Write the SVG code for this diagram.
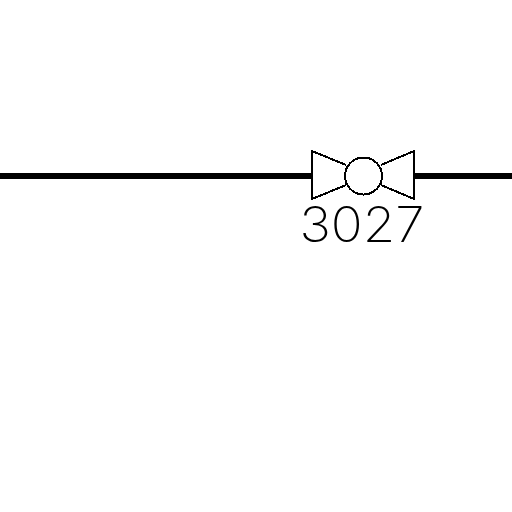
<svg xmlns="http://www.w3.org/2000/svg" width="512" height="512" viewBox="0 0 512 512">
<style>
.pipe{stroke:#000;stroke-width:6;fill:none;shape-rendering:crispEdges}
.sym{stroke:#000;stroke-width:2;fill:none;shape-rendering:crispEdges}
.lbl{font-family:"Inter","Liberation Sans",sans-serif;font-size:49px;font-weight:200;fill:#000}
</style>
<rect width="512" height="512" fill="#fff"/>
<g id="connectors">
<line class="pipe" x1="0" y1="176" x2="312" y2="176"/>
<line class="pipe" x1="415" y1="176" x2="512" y2="176"/>
</g>
<g id="valve-3027">
<path class="sym" d="M346 165L312 151V199L346 185"/>
<path class="sym" d="M381 165L414 151V199L381 185"/>
<circle class="sym" cx="363.500" cy="176" r="18.500"/>
<text class="lbl" x="362" y="242" text-anchor="middle" textLength="125" lengthAdjust="spacingAndGlyphs">3027</text>
</g>
</svg>
